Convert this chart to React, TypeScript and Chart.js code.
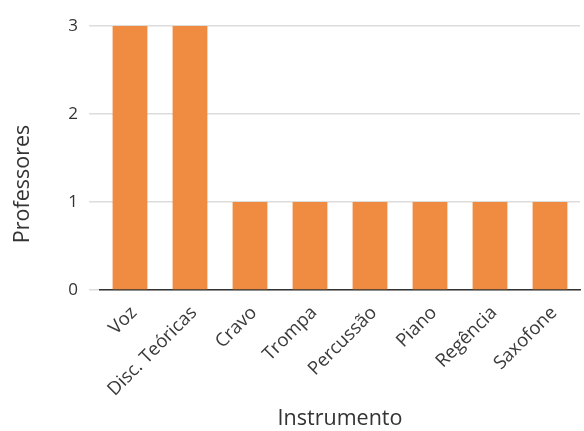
import React, { useEffect, useRef } from "react";
import { Chart, registerables } from "chart.js";

Chart.register(...registerables);

const categories = ["Voz", "Disc. Teóricas", "Cravo", "Trompa", "Percussão", "Piano", "Regência", "Saxofone"];
const professores = [3, 3, 1, 1, 1, 1, 1, 1];
const yTicks = [0, 1, 2, 3];
const yTitle = "Professores";

const yTitlePlugin = {
  id: "yTitlePlugin",
  afterDraw(chart: any) {
    const c = chart.ctx;
    c.save();
    c.translate(22.5, 184);
    c.rotate(-Math.PI / 2);
    c.font = "21.5px 'Open Sans'";
    c.fillStyle = "#333";
    c.textAlign = "center";
    c.textBaseline = "middle";
    c.fillText(yTitle, 0, 0);
    c.restore();
  },
};

export default function App() {
  const ref = useRef<HTMLCanvasElement | null>(null);
  useEffect(() => {
    document.body.style.margin = "0";
    const ctx = ref.current!;
    const chart = new Chart(ctx, {
      type: "bar",
      data: {
        labels: categories,
        datasets: [
          {
            label: "Professores",
            data: professores,
            backgroundColor: "#ef8c41",
            categoryPercentage: 1,
            barPercentage: 0.58,
          },
        ],
      },
      plugins: [yTitlePlugin],
      options: {
        animation: false,
        responsive: false,
        layout: { padding: { top: 26, right: 4, bottom: 0, left: 0 } },
        plugins: { legend: { display: false }, tooltip: { enabled: false } },
        scales: {
          x: {
            afterFit: (s: any) => {
              s.height = 141;
            },
            grid: { display: false, drawTicks: false },
            border: { display: true, color: "#333", width: 1.5 },
            ticks: {
              maxRotation: 45,
              minRotation: 45,
              color: "#3a3a3a",
              font: { family: "Open Sans", size: 18.5 },
              padding: 12,
              labelOffset: 4,
            },
            title: {
              display: true,
              text: "Instrumento",
              color: "#333",
              font: { family: "Open Sans", size: 21.5 },
              padding: { top: 0, bottom: -1 },
            },
          },
          y: {
            min: 0,
            max: 3,
            afterFit: (s: any) => {
              s.width = 100;
            },
            afterBuildTicks: (axis: any) => {
              axis.ticks = yTicks.map((v) => ({ value: v }));
            },
            grid: { color: "#dcdcdc", lineWidth: 1.5, tickLength: 11 },
            border: { display: false },
            ticks: {
              color: "#333",
              font: { family: "Open Sans", size: 17 },
              padding: 11,
            },
            title: { display: false },
          },
        },
      },
    });
    return () => chart.destroy();
  }, []);
  return (
    <div style={{ width: 584, height: 431 }}>
      <canvas ref={ref} width={584} height={431} />
    </div>
  );
}
